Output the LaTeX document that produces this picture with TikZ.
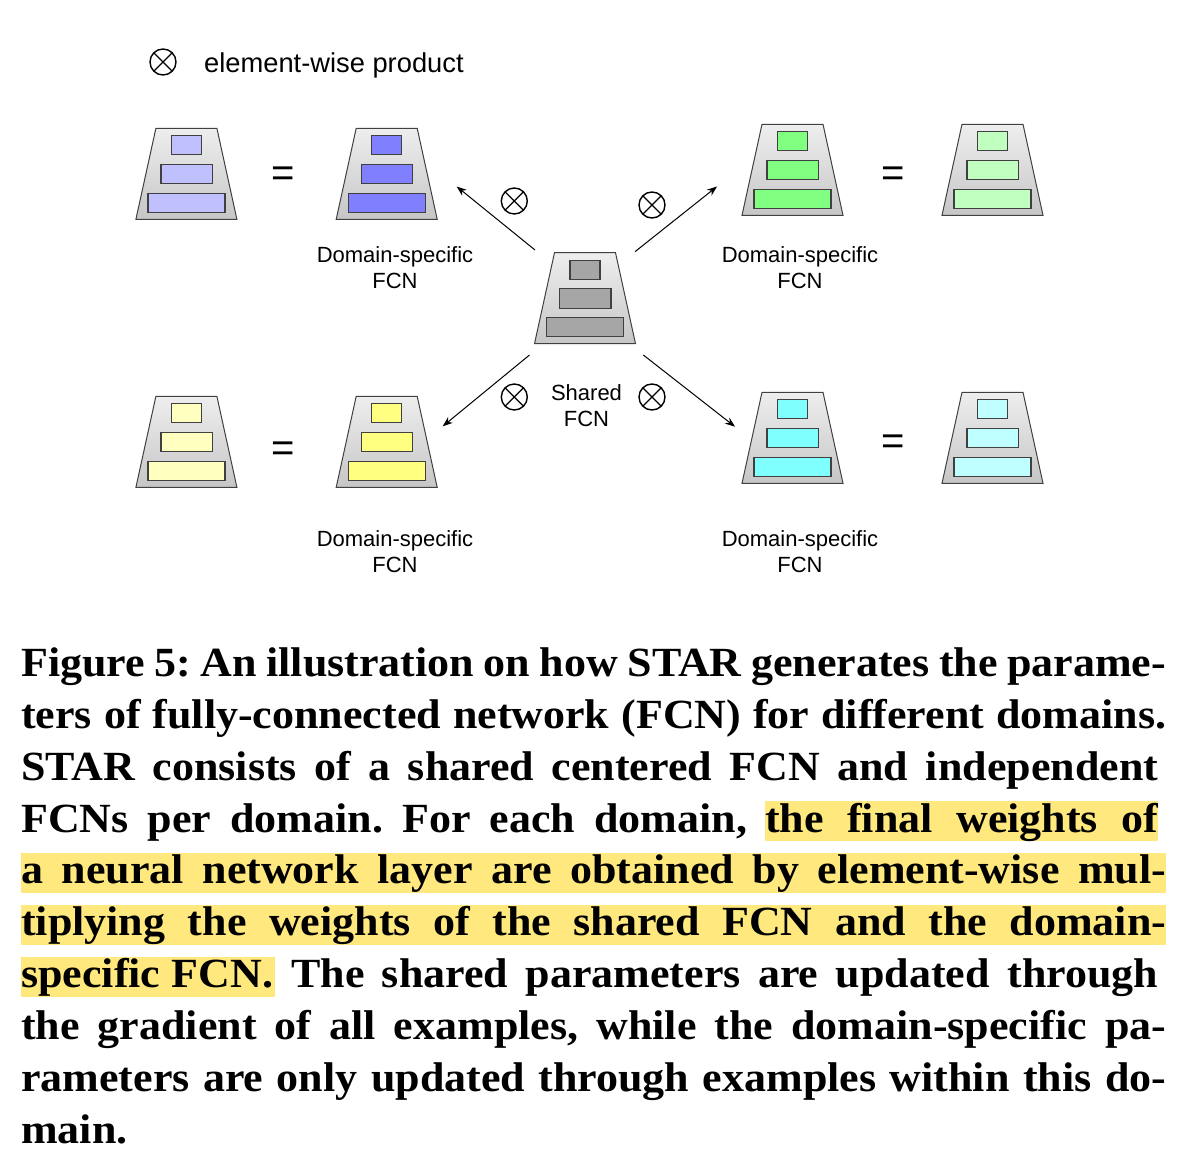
\documentclass[tikz,border=0pt]{standalone}
\usepackage{fontspec}
\usetikzlibrary{arrows.meta}
\setmainfont[FakeStretch=1.06]{Liberation Serif}
\newfontfamily\labelfont{Liberation Sans}
\definecolor{hilite}{HTML}{FFE97F}
\definecolor{edgegray}{HTML}{404040}
\definecolor{stacktop}{HTML}{EEEEEE}
\definecolor{stackbot}{HTML}{C6C6C6}
\definecolor{bluefull}{HTML}{8080FF}
\definecolor{bluelite}{HTML}{C0C0FF}
\definecolor{greenfull}{HTML}{80FF80}
\definecolor{greenlite}{HTML}{C0FFC0}
\definecolor{yellowfull}{HTML}{FFFF80}
\definecolor{yellowlite}{HTML}{FFFFC0}
\definecolor{cyanfull}{HTML}{80FFFF}
\definecolor{cyanlite}{HTML}{C0FFFF}
\definecolor{sharedgray}{HTML}{A6A6A6}
\frenchspacing
\newcommand{\capfit}[2]{\hbox to #1pt{\frenchspacing\spaceskip=0.25em plus 1em minus 0.15em\relax #2}}
\tikzset{
  otimes/.style={circle,draw,line width=1.4pt,minimum size=26pt,inner sep=0pt,
    path picture={\draw[line width=1.2pt] (path picture bounding box.north west) -- (path picture bounding box.south east)
      (path picture bounding box.north east) -- (path picture bounding box.south west);}},
  flow/.style={-{Stealth[length=10pt,width=7.5pt]},line width=1pt},
  tag/.style={font=\labelfont\fontsize{22}{26}\selectfont,align=center,inner sep=0pt},
  equal/.style={font=\labelfont\fontsize{40}{40}\selectfont,inner sep=0pt},
  capline/.style={anchor=base west,inner sep=0pt,font=\bfseries\fontsize{41.5}{52}\selectfont},
  pics/fcn/.style={code={
    \draw[edgegray,line width=1pt,top color=stacktop,bottom color=stackbot] (-30.5,0) -- (30.5,0) -- (50.5,91) -- (-50.5,91) -- cycle;
    \draw[edgegray,line width=1.2pt,fill=#1] (-15,7.5) rectangle (15,26.5);
    \draw[edgegray,line width=1.2pt,fill=#1] (-25.5,36) rectangle (26,55.5);
    \draw[edgegray,line width=1.2pt,fill=#1] (-38.5,65) rectangle (38.5,84);
  }}
}
\begin{document}
\begin{tikzpicture}[x=1pt,y=-1pt]
\useasboundingbox (0,0) rectangle (1186,1166);
% legend
\node (legendmark) [otimes] at (163,62) {};
\node (legendtext) [tag,anchor=west,font=\labelfont\fontsize{27.3}{28}\selectfont] at (204,65) {element-wise product};
% network stacks
\pic at (186.4,128.3) {fcn=bluelite};
\pic at (386.7,128.3) {fcn=bluefull};
\pic at (792.5,124.3) {fcn=greenfull};
\pic at (992.5,124.3) {fcn=greenlite};
\pic at (585,252.7) {fcn=sharedgray};
\pic at (186.4,396.3) {fcn=yellowlite};
\pic at (386.7,396.3) {fcn=yellowfull};
\pic at (792.5,392.3) {fcn=cyanfull};
\pic at (992.5,392.3) {fcn=cyanlite};
% equal signs
\node (eqA) [equal] at (283.5,177) {=};
\node (eqB) [equal] at (893.5,177) {=};
\node (eqC) [equal] at (283.5,452) {=};
\node (eqD) [equal] at (893.5,445) {=};
% labels
\node (domA) [tag] at (395,268) {Domain-specific\\FCN};
\node (domB) [tag] at (800,268) {Domain-specific\\FCN};
\node (domC) [tag] at (395,552) {Domain-specific\\FCN};
\node (domD) [tag] at (800,552) {Domain-specific\\FCN};
\node (shared) [tag] at (586.5,405.5) {Shared\\FCN};
% arrows
\coordinate (fromA) at (535,250);
\coordinate (toA) at (456.7,186.5);
\coordinate (fromB) at (635,251.7);
\coordinate (toB) at (717,186.5);
\coordinate (fromC) at (529.5,355);
\coordinate (toC) at (442.7,426.3);
\coordinate (fromD) at (643.3,355);
\coordinate (toD) at (735,426.7);
\draw [flow] (fromA) -- (toA);
\draw [flow] (fromB) -- (toB);
\draw [flow] (fromC) -- (toC);
\draw [flow] (fromD) -- (toD);
\node (prodA) [otimes] at (514.3,201) {};
\node (prodB) [otimes] at (652,205) {};
\node (prodC) [otimes] at (514.3,397) {};
\node (prodD) [otimes] at (652,397) {};
% caption
\fill [hilite] (765,801) rectangle (1158,841);
\fill [hilite] (21,853) rectangle (1166,893);
\fill [hilite] (21,905) rectangle (1166,945);
\fill [hilite] (21,957) rectangle (275,997);
\node (capA) [capline] at (21,676) {\capfit{1145}{Figure 5: An illustration on how STAR generates the parame-}};
\node (capB) [capline] at (21,728) {\capfit{1145}{ters of fully-connected network (FCN) for different domains.}};
\node (capC) [capline] at (21,780) {\capfit{1137}{STAR consists of a shared centered FCN and independent}};
\node (capD) [capline] at (21,832) {\capfit{726}{FCNs per domain. For each domain,}};
\node (capDb) [capline] at (765,832) {\capfit{393}{the final weights of}};
\node (capE) [capline] at (21,883.5) {\capfit{1145}{a neural network layer are obtained by element-wise mul-}};
\node (capF) [capline] at (21,935) {\capfit{1145}{tiplying the weights of the shared FCN and the domain-}};
\node (capG) [capline] at (21,987) {\capfit{252}{specific FCN.}};
\node (capGb) [capline] at (291,987) {\capfit{867}{The shared parameters are updated through}};
\node (capH) [capline] at (21,1039) {\capfit{1145}{the gradient of all examples, while the domain-specific pa-}};
\node (capI) [capline] at (21,1091) {\capfit{1145}{rameters are only updated through examples within this do-}};
\node (capJ) [capline] at (21,1143) {main.};
\end{tikzpicture}
\end{document}
